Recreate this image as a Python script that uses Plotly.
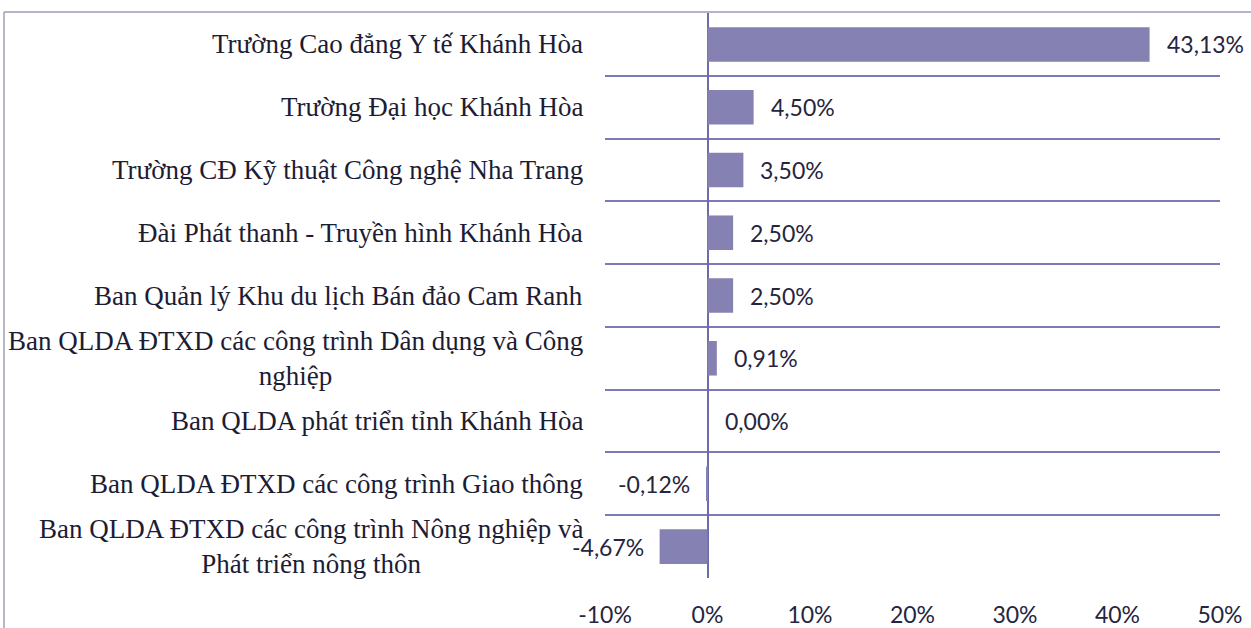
import plotly.graph_objects as go

categories = [
    "Trường Cao đẳng Y tế Khánh Hòa",
    "Trường Đại học Khánh Hòa",
    "Trường CĐ Kỹ thuật Công nghệ Nha Trang",
    "Đài Phát thanh - Truyền hình Khánh Hòa",
    "Ban Quản lý Khu du lịch Bán đảo Cam Ranh",
    "Ban QLDA ĐTXD các công trình Dân dụng và Công<br>nghiệp",
    "Ban QLDA phát triển tỉnh Khánh Hòa",
    "Ban QLDA ĐTXD các công trình Giao thông",
    "Ban QLDA ĐTXD các công trình Nông nghiệp và<br>Phát triển nông thôn",
]
values = [43.13, 4.50, 3.50, 2.50, 2.50, 0.91, 0.00, -0.12, -4.67]
tick_values = [-10, 0, 10, 20, 30, 40, 50]
tick_labels = ["-10%", "0%", "10%", "20%", "30%", "40%", "50%"]

W, H = 1251, 628
ML, MR, MT, MB = 605, 31, 13, 50
PW, PH = W - ML - MR, H - MT - MB

BAR = "#8581b2"
GRID = "#7c7ab2"
TXT = "#1c1c34"
VAL_FONT = dict(family="Lato, Open Sans, sans-serif", size=23, color="#25253f")
CAT_FONT = dict(family="Liberation Serif, Times New Roman, serif", size=27, color=TXT)

fig = go.Figure(go.Bar(
    x=values, y=categories, orientation="h", width=0.55,
    marker=dict(color=BAR, line=dict(width=0)),
    hoverinfo="skip",
))

annotations = []
for c, v in zip(categories, values):
    annotations.append(dict(
        x=-0.0325, xref="paper", y=c, yref="y", text=c, showarrow=False,
        xanchor="right", yanchor="middle", align="center", font=CAT_FONT,
    ))
    label = f"{v:.2f}%".replace(".", ",")
    pos = v >= 0
    annotations.append(dict(
        x=v, xref="x", y=c, yref="y", text=label, showarrow=False,
        xanchor="left" if pos else "right", yanchor="middle",
        xshift=15 if pos else -14, font=VAL_FONT,
    ))

def px_x(p):
    return (p - ML) / PW

def px_y(p):
    return 1 - (p - MT) / PH

shapes = [
    dict(type="line", xref="paper", yref="paper", x0=px_x(4), x1=px_x(W), y0=px_y(12), y1=px_y(12),
         line=dict(color="#9a98bf", width=1.5)),
    dict(type="line", xref="paper", yref="paper", x0=px_x(4), x1=px_x(4), y0=px_y(12), y1=px_y(H + 5),
         line=dict(color="#a0a0b0", width=1.5)),
]

fig.update_layout(
    width=W, height=H,
    margin=dict(l=ML, r=MR, t=MT, b=MB, pad=0, autoexpand=False),
    paper_bgcolor="white", plot_bgcolor="white",
    showlegend=False,
    annotations=annotations,
    shapes=shapes,
    xaxis=dict(
        range=[-10, 50], tickvals=tick_values, ticktext=tick_labels,
        showgrid=False, zeroline=True, zerolinecolor="#6d6ba8", zerolinewidth=1.5,
        showline=False, ticks="", ticklabelstandoff=21, tickfont=VAL_FONT,
        fixedrange=True, automargin=False,
    ),
    yaxis=dict(
        categoryorder="array", categoryarray=categories, range=[8.5, -0.5],
        showgrid=True, gridcolor=GRID, gridwidth=1.5, tickson="boundaries",
        showticklabels=False, ticks="", zeroline=False, showline=False,
        fixedrange=True, automargin=False,
    ),
)

fig.write_html(
    "out.html",
    config={"displayModeBar": False},
    post_script="document.body.style.margin='0';document.body.style.overflow='hidden';",
)
